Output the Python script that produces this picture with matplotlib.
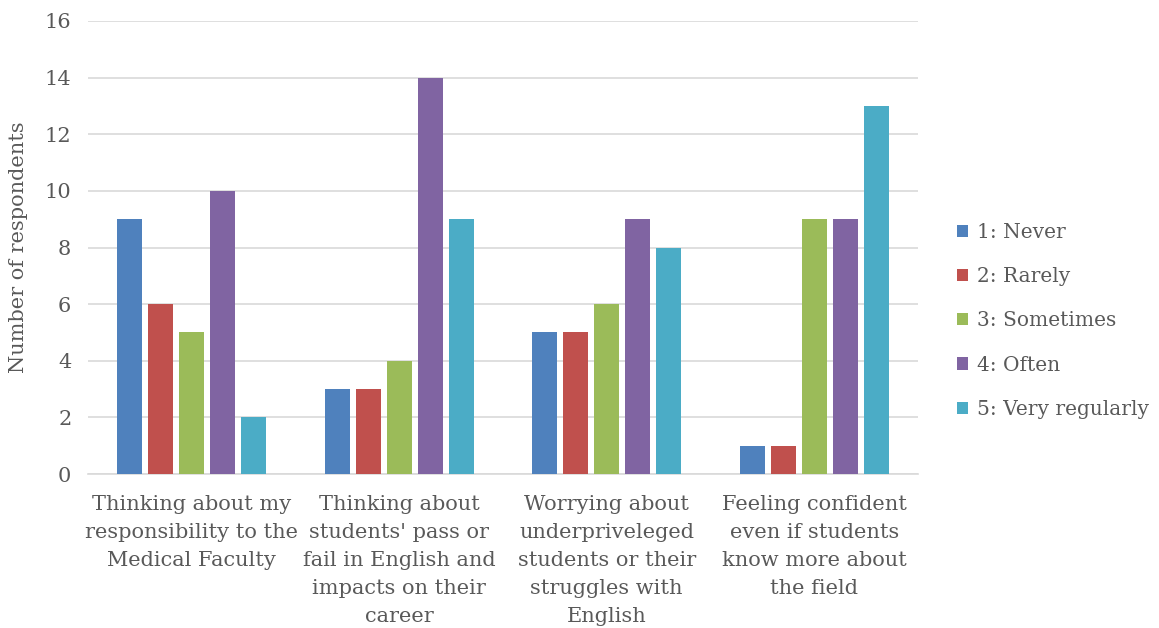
import numpy as np
import matplotlib
matplotlib.use("Agg")
import matplotlib.pyplot as plt

# 데이터
categories = ["Thinking about my\nresponsibility to the\nMedical Faculty",
              "Thinking about\nstudents' pass or\nfail in English and\nimpacts on their\ncareer",
              "Worrying about\nunderpriveleged\nstudents or their\nstruggles with\nEnglish",
              "Feeling confident\neven if students\nknow more about\nthe field"]
series_names = ["1: Never", "2: Rarely", "3: Sometimes", "4: Often", "5: Very regularly"]
never = [9, 3, 5, 1]
rarely = [6, 3, 5, 1]
sometimes = [5, 4, 6, 9]
often = [10, 14, 9, 9]
very_regularly = [2, 9, 8, 13]
y_ticks = [0, 2, 4, 6, 8, 10, 12, 14, 16]

colors = ["#4F81BD", "#C0504D", "#9BBB59", "#8064A2", "#4BACC6"]
txt_color = "#595959"

plt.rcParams['font.family'] = ['DejaVu Serif']

fig = plt.figure(figsize=(11.59, 6.28), dpi=100)
ax = fig.add_axes([88/1159, 1-474/628, (918-88)/1159, (474-21)/628])

x = np.arange(len(categories))
step = 0.149
width = 0.12
all_series = [never, rarely, sometimes, often, very_regularly]
for i, (vals, name) in enumerate(zip(all_series, series_names)):
    ax.bar(x + (i - 2) * step, vals, width, color=colors[i], label=name, zorder=3)

ax.set_xlim(-0.5, 3.5)
ax.set_ylim(0, 16)
ax.set_yticks(y_ticks)
ax.yaxis.grid(True, color="#D9D9D9", linewidth=1.2, zorder=0)
for s in ["top", "right", "left"]:
    ax.spines[s].set_visible(False)
ax.spines["bottom"].set_color("#D9D9D9")
ax.spines["bottom"].set_linewidth(1.2)
ax.tick_params(axis="both", length=0, colors=txt_color, labelsize=15)
ax.tick_params(axis="y", pad=12)
ax.set_xticks(x)
ax.set_xticklabels(categories, fontsize=15, linespacing=1.6, color=txt_color)
ax.tick_params(axis="x", pad=15)
ax.set_ylabel("Number of respondents", fontsize=15, color=txt_color, labelpad=12)

leg = ax.legend(loc="center left", bbox_to_anchor=(1.025, 0.338), frameon=False,
                fontsize=14.5, handlelength=0.55, handleheight=0.55,
                handletextpad=0.45, labelspacing=1.25)
for t in leg.get_texts():
    t.set_color(txt_color)

fig.savefig("out.png", dpi=100)
